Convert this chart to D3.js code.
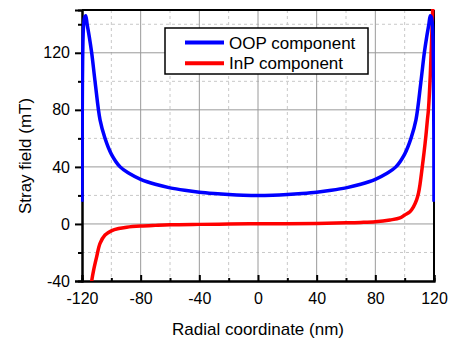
<!DOCTYPE html>
<html>
<head>
<meta charset="utf-8">
<script src="https://cdn.jsdelivr.net/npm/d3@7"></script>
<style>
    body { margin: 0; background: #fff; }
    text { font-family: "Liberation Sans", Arial, sans-serif; fill: #000; }
</style>
</head>
<body>
<div id="container"></div>
<script>
// OOP component (blue)
const oopX = [-120, -119.7, -119, -118.2, -117.5, -116.5, -115, -113.4, -111, -107.7, -104.3, -100, -94, -88, -80, -70, -60, -50, -40, -30, -20, -10, 0,
    10, 20, 30, 40, 50, 60, 70, 80, 88, 94, 100, 104.3, 107.7, 111, 113.4, 115, 116.5, 117.5, 118.2, 119, 119.7, 120];
const oopY = [15.5, 100, 138, 145, 146, 140, 131, 120, 99, 73, 60, 49, 40, 35.5, 31.3, 27.8, 25.3, 23.6, 22.3, 21.4, 20.7, 20.2, 20,
    20.2, 20.7, 21.4, 22.3, 23.6, 25.3, 27.8, 31.3, 35.5, 40, 49, 60, 73, 99, 120, 131, 140, 146, 145, 138, 100, 15.5];

// InP component (red)
const inpX = [-116, -114.5, -113.4, -112, -110, -107.7, -104.3, -100, -95, -89.5, -80, -70, -60, -40, -20, 0,
    20, 40, 60, 70, 80, 90, 96.8, 100, 103.6, 106, 108.2, 109.5, 110.5, 112, 113.2, 114.5, 115.5, 116.2, 117.5, 119.1, 120];
const inpY = [-62, -48, -40, -32, -23, -13.6, -7.7, -4.8, -3.2, -2.3, -1.5, -1, -0.6, -0.3, -0.1, 0.1,
    0.2, 0.4, 0.8, 1.1, 1.6, 2.8, 4.2, 6.3, 8.6, 12, 17, 22, 28, 40, 50, 62, 73, 80, 105, 150, 170];

const xMajor = [-120, -80, -40, 0, 40, 80, 120];
const xMinor = [-100, -60, -20, 20, 60, 100];
const yMajor = [-40, 0, 40, 80, 120];
const yMinor = [-20, 20, 60, 100, 140];

const legendNames = ["OOP component", "InP component"];
const colors = ["#0000ff", "#ff0000"];

const margin = {left: 82, top: 10, right: 22, bottom: 60};
const W = 456, H = 341;
const w = W - margin.left - margin.right;
const h = H - margin.top - margin.bottom;

const svg = d3.select("#container")
    .append("svg")
    .attr("width", W)
    .attr("height", H);

const g = svg.append("g")
    .attr("transform", "translate(" + margin.left + "," + margin.top + ")");

const xScale = d3.scaleLinear().domain([-120, 120]).range([0, w]);
const yScale = d3.scaleLinear().domain([-40, 150]).range([h, 0]);

// grid
g.selectAll(".vminor").data(xMinor).enter().append("line")
    .attr("x1", d => xScale(d)).attr("x2", d => xScale(d))
    .attr("y1", 0).attr("y2", h)
    .attr("stroke", "#c8c8c8").attr("stroke-dasharray", "3,3");
g.selectAll(".hminor").data(yMinor).enter().append("line")
    .attr("y1", d => yScale(d)).attr("y2", d => yScale(d))
    .attr("x1", 0).attr("x2", w)
    .attr("stroke", "#c8c8c8").attr("stroke-dasharray", "3,3");
g.selectAll(".vmajor").data(xMajor.slice(1, -1)).enter().append("line")
    .attr("x1", d => xScale(d)).attr("x2", d => xScale(d))
    .attr("y1", 0).attr("y2", h)
    .attr("stroke", "#9a9a9a");
g.selectAll(".hmajor").data(yMajor.slice(1)).enter().append("line")
    .attr("y1", d => yScale(d)).attr("y2", d => yScale(d))
    .attr("x1", 0).attr("x2", w)
    .attr("stroke", "#9a9a9a");

// legend box
const lg = g.append("g").attr("transform", "translate(" + (165 - margin.left) + "," + (28 - margin.top) + ")");
lg.append("rect")
    .attr("width", 203).attr("height", 46)
    .attr("fill", "#fff").attr("stroke", "#000").attr("stroke-width", 1.5);
legendNames.forEach((name, i) => {
    const y = 14.5 + i * 20.7;
    lg.append("line")
        .attr("x1", 20).attr("x2", 59)
        .attr("y1", y).attr("y2", y)
        .attr("stroke", colors[i]).attr("stroke-width", 4);
    lg.append("text")
        .attr("x", 64).attr("y", y + 6)
        .style("font-size", "17px")
        .text(name);
});

// axes
const xAxis = d3.axisBottom(xScale).tickValues(xMajor).tickSize(-6).tickPadding(12).tickFormat(d3.format("d"));
const xAxisMinor = d3.axisBottom(xScale).tickValues(xMinor).tickSize(-3).tickFormat("");
const yAxis = d3.axisLeft(yScale).tickValues(yMajor).tickSize(7).tickPadding(5).tickFormat(d3.format("d"));
const yAxisMinor = d3.axisLeft(yScale).tickValues(yMinor).tickSize(4).tickFormat("");

const xg = g.append("g").attr("transform", "translate(0," + h + ")").call(xAxis);
g.append("g").attr("transform", "translate(0," + h + ")").call(xAxisMinor);
const yg = g.append("g").call(yAxis);
g.append("g").call(yAxisMinor);

g.selectAll(".domain").attr("stroke", "#000").attr("stroke-width", 2);
g.selectAll(".tick line").attr("stroke", "#000").attr("stroke-width", 2);
g.selectAll(".tick text").style("font-size", "16px").attr("font-family", "Liberation Sans, Arial, sans-serif");
xg.selectAll(".tick text").text(d => d < 0 ? "-" + Math.abs(d) : d);
yg.selectAll(".tick text").text(d => d < 0 ? "-" + Math.abs(d) : d);

// top and right frame
g.append("line").attr("x1", 0).attr("x2", w).attr("y1", 0).attr("y2", 0)
    .attr("stroke", "#000").attr("stroke-width", 2);
g.append("line").attr("x1", w).attr("x2", w).attr("y1", 0).attr("y2", h)
    .attr("stroke", "#000").attr("stroke-width", 2);

// curves
g.append("clipPath").attr("id", "clip")
    .append("rect").attr("x", -1).attr("y", -1).attr("width", w + 2).attr("height", h + 1);

const lineMaker = d3.line()
    .x(d => xScale(d[0]))
    .y(d => yScale(d[1]))
    .curve(d3.curveCatmullRom.alpha(0.5));

const oop = oopX.map((x, i) => [x, oopY[i]]);
const inp = inpX.map((x, i) => [x, inpY[i]]);

g.append("path").datum(inp)
    .attr("clip-path", "url(#clip)")
    .attr("d", lineMaker)
    .attr("stroke", colors[1]).attr("stroke-width", 3.5)
    .style("fill", "none");
g.append("path").datum(oop)
    .attr("clip-path", "url(#clip)")
    .attr("d", lineMaker)
    .attr("stroke", colors[0]).attr("stroke-width", 3.5)
    .style("fill", "none");

// titles
svg.append("text")
    .attr("x", margin.left + xScale(0)).attr("y", 335)
    .attr("text-anchor", "middle")
    .style("font-size", "17px")
    .text("Radial coordinate (nm)");
svg.append("text")
    .attr("transform", "translate(31,156) rotate(-90)")
    .attr("text-anchor", "middle")
    .style("font-size", "17px")
    .text("Stray field (mT)");
</script>
</body>
</html>
